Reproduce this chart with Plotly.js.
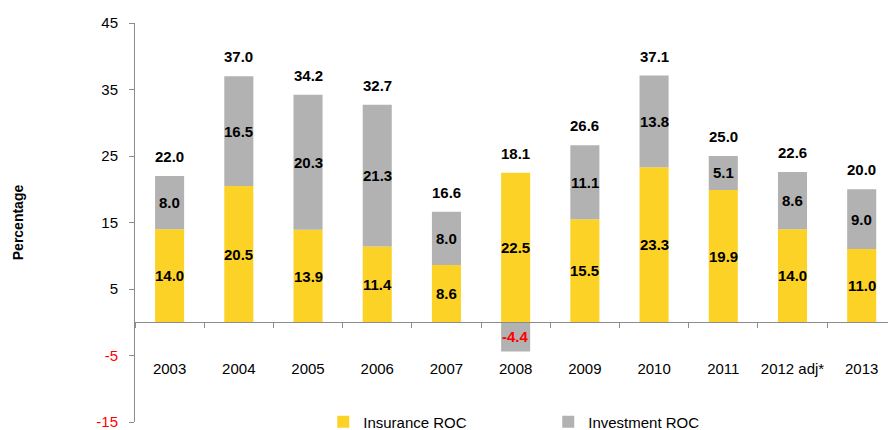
<!DOCTYPE html>
<html>
<head>
<meta charset="utf-8">
<script src="https://cdn.plot.ly/plotly-3.0.1.min.js"></script>
<style>html,body{margin:0;padding:0;background:#fff;}#chart{width:888px;height:430px;}</style>
</head>
<body>
<div id="chart"></div>
<script>
const years = ['2003','2004','2005','2006','2007','2008','2009','2010','2011','2012 adj*','2013'];
const insuranceROC = [14.0,20.5,13.9,11.4,8.6,22.5,15.5,23.3,19.9,14.0,11.0];
const investmentROC = [8.0,16.5,20.3,21.3,8.0,-4.4,11.1,13.8,5.1,8.6,9.0];
const totalROC = [22.0,37.0,34.2,32.7,16.6,18.1,26.6,37.1,25.0,22.6,20.0];
const yTicks = [-15,-5,5,15,25,35,45];

const FONT = '"Liberation Sans", Arial, sans-serif';
const YELLOW = '#FDD226';
const GRAY = '#B2B2B2';

const traces = [
  {type:'bar', name:'Insurance ROC', x:years, y:insuranceROC, marker:{color:YELLOW}, hoverinfo:'skip'},
  {type:'bar', name:'Investment ROC', x:years, y:investmentROC, marker:{color:GRAY}, hoverinfo:'skip'}
];

const annotations = [];
years.forEach((yr,i)=>{
  const ins = insuranceROC[i], inv = investmentROC[i];
  annotations.push({x:i, y:ins/2, text:'<b>'+ins.toFixed(1)+'</b>', showarrow:false,
    font:{family:FONT,size:15,color:'#000'}});
  const invMid = inv >= 0 ? ins + inv/2 : inv/2;
  annotations.push({x:i, y:invMid, text:'<b>'+inv.toFixed(1)+'</b>', showarrow:false,
    font:{family:FONT,size:15,color: inv<0 ? '#FF0000' : '#000'}});
  const top = ins + Math.max(inv,0);
  annotations.push({x:i, y:top, yanchor:'bottom', yshift:9, text:'<b>'+totalROC[i].toFixed(1)+'</b>', showarrow:false,
    font:{family:FONT,size:15,color:'#000'}});
});

const layout = {
  width:888, height:430,
  margin:{l:135, r:0, t:23, b:8, autoexpand:false},
  paper_bgcolor:'#fff', plot_bgcolor:'#fff',
  barmode:'relative', bargap:0.58,
  showlegend:true,
  legend:{orientation:'h', x:0.25, xanchor:'left', y:0, yanchor:'middle',
    font:{family:FONT,size:15,color:'#000'}, itemwidth:30, entrywidth:180, entrywidthmode:'pixels', bgcolor:'rgba(0,0,0,0)'},
  font:{family:FONT, size:15, color:'#000'},
  xaxis:{type:'category', range:[-0.5,10.38], anchor:'free', position:0.25,
    showline:true, linecolor:'#8c8c8c', linewidth:1, ticks:'outside', tickson:'boundaries',
    ticklen:5, tickcolor:'#8c8c8c', ticklabelstandoff:33, tickangle:0, showgrid:false, zeroline:false,
    ticklabeloverflow:'allow',
    tickfont:{family:FONT,size:15,color:'#000'}},
  yaxis:{range:[-15,45], tickvals:yTicks,
    ticktext:yTicks.map(v=> v<0 ? '<span style="color:#FF0000">'+v+'</span>' : String(v)),
    showline:true, linecolor:'#8c8c8c', linewidth:1, ticks:'outside', ticklen:5, tickcolor:'#8c8c8c',
    ticklabelstandoff:8, showgrid:false, zeroline:false, ticklabeloverflow:'allow',
    tickfont:{family:FONT,size:15,color:'#000'},
    title:{text:'<b>Percentage</b>', standoff:69, font:{family:FONT,size:14,color:'#000'}}},
  annotations:annotations
};

Plotly.newPlot('chart', traces, layout, {displayModeBar:false, staticPlot:true});
</script>
</body>
</html>
